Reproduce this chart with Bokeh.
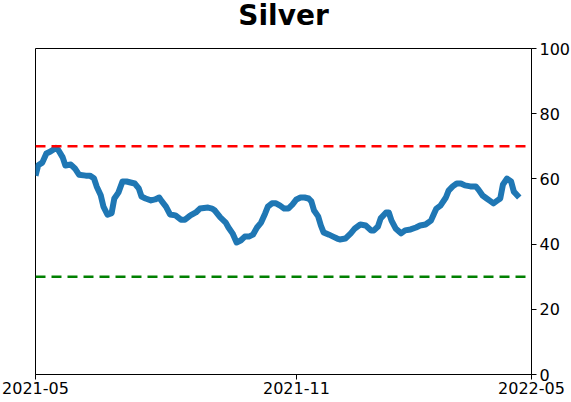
from bokeh.plotting import figure
from bokeh.models import LinearAxis, Range1d, FixedTicker, Span, Title
from bokeh.embed import file_html
from bokeh.resources import INLINE

# day offsets from start of window (axis spans 0..365)
days = [0, 2, 5, 8, 11, 15, 17, 20, 22, 26,
        29, 32, 37, 40, 43, 45, 48, 50, 53, 56,
        58, 61, 64, 67, 70, 73, 76, 78, 81, 85,
        88, 91, 93, 96, 99, 103, 107, 110, 114, 118,
        121, 127, 130, 132, 136, 140, 142, 145, 148, 151,
        154, 157, 160, 163, 166, 169, 171, 174, 177, 180,
        183, 186, 189, 192, 195, 198, 201, 203, 205, 208,
        210, 212, 216, 219, 222, 224, 228, 232, 235, 239,
        243, 247, 249, 252, 254, 258, 260, 262, 265, 269,
        272, 276, 280, 283, 287, 291, 293, 295, 298, 302,
        304, 307, 310, 313, 316, 320, 324, 326, 329, 332,
        335, 337, 340, 342, 344, 347, 350, 352, 356]

values = [61.0, 64.2, 65.0, 67.8, 68.4, 69.5, 68.7, 66.6, 64.1, 64.4,
          63.2, 61.3, 61.0, 61.0, 60.2, 57.7, 55.0, 51.5, 49.0, 49.5,
          54.0, 55.8, 59.2, 59.2, 58.9, 58.6, 57.1, 54.6, 54.0, 53.4,
          53.7, 54.3, 53.1, 51.5, 49.1, 48.8, 47.5, 47.5, 48.8, 49.7,
          50.9, 51.2, 50.9, 50.3, 48.2, 46.6, 45.1, 43.3, 40.5, 41.1,
          42.3, 42.3, 42.9, 45.1, 46.6, 49.4, 51.5, 52.5, 52.5, 51.8,
          50.9, 50.9, 52.1, 53.7, 54.3, 54.3, 54.0, 53.1, 50.3, 48.5,
          45.7, 43.6, 42.9, 42.3, 41.7, 41.4, 41.7, 43.3, 44.8, 46.0,
          45.7, 44.2, 44.2, 45.4, 47.9, 49.7, 49.7, 47.2, 44.8, 43.3,
          44.2, 44.5, 45.1, 45.7, 46.0, 47.2, 49.1, 50.9, 51.8, 54.3,
          56.4, 57.7, 58.6, 58.6, 58.0, 57.7, 57.7, 56.7, 54.9, 54.0,
          53.1, 52.5, 53.4, 54.0, 58.3, 60.1, 59.2, 56.1, 54.3]

tick_pos = [0, 192, 365]
tick_labels = ["2021-05", "2021-11", "2022-05"]
y_ticks = [0, 20, 40, 60, 80, 100]
upper_level = 70
lower_level = 30

p = figure(frame_width=496, frame_height=326, output_backend="svg", toolbar_location=None,
           x_range=Range1d(0, 365), y_range=Range1d(0, 100),
           min_border_left=35, min_border_right=0, min_border_top=48,
           min_border_bottom=28)
p.title.text = "Silver"
p.title.text_font = "DejaVu Sans"
p.title.text_font_size = "28px"
p.title.text_font_style = "bold"
p.title.align = "center"
p.title.text_color = "black"
p.title.vertical_align = "top"
p.title.standoff = -6

# spacer between title and frame
p.add_layout(Title(text=" ", text_font_size="1px", standoff=15), "above")

p.xgrid.visible = False
p.ygrid.visible = False
p.outline_line_color = "black"
p.outline_line_width = 1
p.background_fill_color = "white"
p.border_fill_color = "white"

p.yaxis.visible = False
ax_r = LinearAxis(ticker=FixedTicker(ticks=y_ticks))
ax_r.major_label_text_font = "DejaVu Sans"
ax_r.major_label_text_font_size = "16px"
ax_r.major_label_text_color = "black"
ax_r.major_tick_out = 5
ax_r.major_tick_in = 0
ax_r.minor_tick_line_color = None
ax_r.axis_line_color = "black"
ax_r.major_label_standoff = 3
p.add_layout(ax_r, "right")

xa = p.xaxis[0]
xa.ticker = FixedTicker(ticks=tick_pos)
xa.major_label_overrides = {t: l for t, l in zip(tick_pos, tick_labels)}
xa.major_label_text_font = "DejaVu Sans"
xa.major_label_text_font_size = "16px"
xa.major_label_text_color = "black"
xa.major_tick_out = 5
xa.major_tick_in = 0
xa.minor_tick_line_color = None
xa.major_label_standoff = 2

p.add_layout(Span(location=upper_level, dimension="width", line_color="#ff0000",
                  line_width=2.5, line_dash="10 6"))
p.add_layout(Span(location=lower_level, dimension="width", line_color="#008000",
                  line_width=2.5, line_dash="10 6"))

p.line(days, values, line_color="#1f77b4", line_width=6, line_join="round")

open("out.html", "w").write(file_html(p, INLINE))
